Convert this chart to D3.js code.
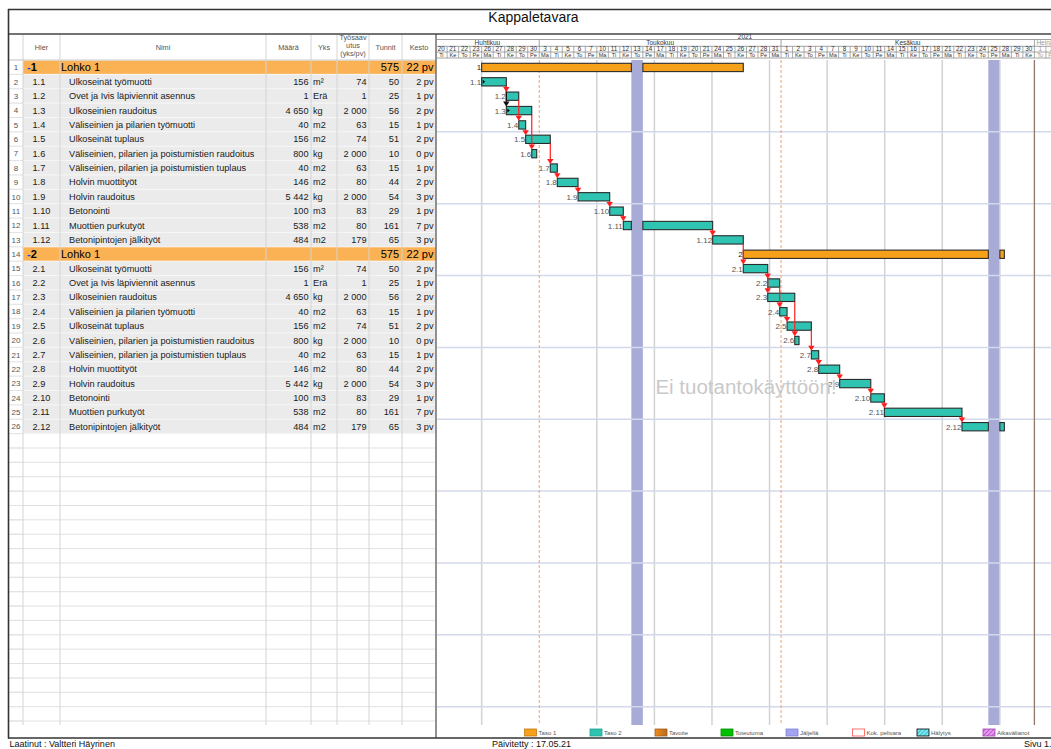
<!DOCTYPE html>
<html><head><meta charset="utf-8">
<script src="https://cdn.jsdelivr.net/npm/d3@7"></script>
<style>body{margin:0;background:#fff;} svg{display:block;font-family:"Liberation Sans",Arial,sans-serif;}</style>
</head><body><svg id="c" width="1051" height="749"></svg>
<script>
// ---------- DATA ----------
const title = "Kappaletavara";
const yearLabel = "2021";
const dayNums = [20,21,22,23,26,27,28,29,30, 3,4,5,6,7,10,11,12,13,14,17,18,19,20,21,24,25,26,27,28,31, 1,2,3,4,7,8,9,10,11,14,15,16,17,18,21,22,23,24,25,28,29,30, 1,2];
const weekdays = ["Ti","Ke","To","Pe","Ma","Ti","Ke","To","Pe",
  "Ma","Ti","Ke","To","Pe","Ma","Ti","Ke","To","Pe","Ma","Ti","Ke","To","Pe","Ma","Ti","Ke","To","Pe","Ma",
  "Ti","Ke","To","Pe","Ma","Ti","Ke","To","Pe","Ma","Ti","Ke","To","Pe","Ma","Ti","Ke","To","Pe","Ma","Ti","Ke",
  "To","Pe"];
const monthNames = ["Huhtikuu","Toukokuu","Kesäkuu","Heinäkuu"];
const monthStart = [0, 9, 30, 52];
const monthEnd = [9, 30, 52, 54];
const holidays = [17, 48];            // workday index of 13.5. and 25.6.
const monthLines = [9, 30];           // dashed month-start lines
const endLine = [52];                 // solid line at 1.7.

const hierCodes = ["1","1.1","1.2","1.3","1.4","1.5","1.6","1.7","1.8","1.9","1.10","1.11","1.12",
                   "2","2.1","2.2","2.3","2.4","2.5","2.6","2.7","2.8","2.9","2.10","2.11","2.12"];
const taskNamesBlock = ["Lohko 1","Ulkoseinät työmuotti","Ovet ja Ivis läpiviennit asennus","Ulkoseinien raudoitus",
  "Väliseinien ja pilarien työmuotti","Ulkoseinät tuplaus","Väliseinien, pilarien ja poistumistien raudoitus",
  "Väliseinien, pilarien ja poistumistien tuplaus","Holvin muottityöt","Holvin raudoitus","Betonointi",
  "Muottien purkutyöt","Betonipintojen jälkityöt"];
const names = taskNamesBlock.concat(taskNamesBlock);
const amounts = ["","156","1","4 650","40","156","800","40","146","5 442","100","538","484",
                 "","156","1","4 650","40","156","800","40","146","5 442","100","538","484"];
const units = ["","m²","Erä","kg","m2","m2","kg","m2","m2","kg","m3","m2","m2",
               "","m²","Erä","kg","m2","m2","kg","m2","m2","kg","m3","m2","m2"];
const rates = ["","74","1","2 000","63","74","2 000","63","80","2 000","83","80","179",
               "","74","1","2 000","63","74","2 000","63","80","2 000","83","80","179"];
const hours = [575,50,25,56,15,51,10,15,44,54,29,161,65, 575,50,25,56,15,51,10,15,44,54,29,161,65];
const durations = ["22 pv","2 pv","1 pv","2 pv","1 pv","2 pv","0 pv","1 pv","2 pv","3 pv","1 pv","7 pv","3 pv",
                   "22 pv","2 pv","1 pv","2 pv","1 pv","2 pv","0 pv","1 pv","2 pv","3 pv","1 pv","7 pv","3 pv"];
// start / end in workday index (0 = Ti 20.4.2021)
const starts = [4, 4, 6.14, 6.14, 7.22, 7.82, 8.35, 9.96, 10.57, 12.37, 15.12, 16.3, 24.06,
                26.72, 26.72, 28.84, 28.84, 29.88, 30.52, 31.19, 32.63, 33.27, 35.09, 37.79, 38.97, 45.71];
const ends = [26.72, 6.14, 7.22, 8.35, 7.82, 9.96, 8.78, 10.57, 12.37, 15.12, 16.3, 24.06, 26.72,
              49.39, 28.84, 29.88, 31.19, 30.52, 32.63, 31.56, 33.27, 35.09, 37.79, 38.97, 45.71, 49.39];
const linkFrom = [1,2,3,4,5,7,8,9,10,11,12, 14,14,15,16,17,18,20,21,22,23,24];
const linkTo   = [2,4,6,5,7,8,9,10,11,12,14, 15,16,17,19,18,20,21,22,23,24,25];
const blackLinkFrom = [1];
const blackLinkTo = [3];
const startMarks = [1, 3];
const legendLabels = ["Taso 1","Taso 2","Tavoite","Toteutuma","Jäljellä","Kok. pelivara","Hälytys","Aikavälianot"];
const headers = ["Hier","Nimi","Määrä","Yks","Työsaav|utus|(yks/pv)","Tunnit","Kesto"];

// ---------- LAYOUT ----------
const svg = d3.select("#c");
const colX = [8, 23, 60, 266, 311, 337, 369, 402, 436];
const chartL = 437, chartR = 1051;
const rowH = 14.37, rowTop0 = 60, totalRows = 46, gridBottom = 725;
const y = d3.scaleLinear().domain([0, 1]).range([rowTop0, rowTop0 + rowH]);
const x = d3.scaleLinear().domain([0, 52]).range([435.6, 1034.4]);
const C = {orangeRow:"#fbb254", grayRow:"#ebebeb", bar1:"#f7a11a", bar2:"#2fc3b1", holiday:"#a7abd6",
           grid:"#d2d2d2", text:"#1a1a1a"};

const defs = svg.append("defs");
defs.append("clipPath").attr("id","chartClip").append("rect").attr("x",chartL).attr("y",30).attr("width",chartR-chartL).attr("height",700);
const hatch = defs.append("pattern").attr("id","hatchC").attr("patternUnits","userSpaceOnUse").attr("width",3).attr("height",3).attr("patternTransform","rotate(45)");
hatch.append("rect").attr("width",3).attr("height",3).attr("fill","#7fe8f0");
hatch.append("line").attr("x1",0).attr("y1",0).attr("x2",0).attr("y2",3).attr("stroke","#1aa8b8").attr("stroke-width",1.4);
const hatchM = defs.append("pattern").attr("id","hatchM").attr("patternUnits","userSpaceOnUse").attr("width",3).attr("height",3).attr("patternTransform","rotate(45)");
hatchM.append("rect").attr("width",3).attr("height",3).attr("fill","#e7a0f0");
hatchM.append("line").attr("x1",0).attr("y1",0).attr("x2",0).attr("y2",3).attr("stroke","#b030c8").attr("stroke-width",1.4);
const grad = defs.append("linearGradient").attr("id","tavoite");
grad.append("stop").attr("offset","0").attr("stop-color","#f08c1e");
grad.append("stop").attr("offset","1").attr("stop-color","#b86a20");

// ---------- TABLE ----------
const tbl = svg.append("g");
// row backgrounds
for (let i = 0; i < totalRows; i++) {
  const top = y(i);
  if (i < hierCodes.length) {
    const grp = !hierCodes[i].includes(".");
    tbl.append("rect").attr("x",colX[1]).attr("y",top).attr("width",colX[8]-colX[1]).attr("height",rowH)
      .attr("fill", grp ? C.orangeRow : C.grayRow);
  }
}
// horizontal lines in table
for (let i = 0; i <= totalRows; i++) {
  tbl.append("line").attr("x1",colX[0]).attr("x2",colX[8]).attr("y1",y(i)).attr("y2",y(i))
    .attr("stroke", i <= hierCodes.length ? "#f7f7f7" : "#e2e2e2").attr("stroke-width",1);
}
// row number column horizontal lines
for (let i = 0; i <= totalRows; i++) {
  tbl.append("line").attr("x1",colX[0]).attr("x2",colX[1]).attr("y1",y(i)).attr("y2",y(i)).attr("stroke","#e2e2e2");
}
// vertical lines
colX.slice(1,8).forEach(cx => {
  tbl.append("line").attr("x1",cx).attr("x2",cx).attr("y1",34).attr("y2",gridBottom).attr("stroke","#d4d4d4").attr("stroke-width",1);
});
// header texts
const hdrCenters = [41.5, 163, 288.5, 324, 353, 385.5, 419];
headers.forEach((h, k) => {
  const lines = h.split("|");
  const t = tbl.append("text").attr("x",hdrCenters[k]).attr("text-anchor","middle")
    .attr("font-size",7.3).attr("fill","#555");
  if (lines.length === 1) t.attr("y",50).text(h);
  else lines.forEach((ln, j) => t.append("tspan").attr("x",hdrCenters[k]).attr("y",40 + j*7.8).text(ln));
});
tbl.append("line").attr("x1",colX[0]).attr("x2",colX[8]).attr("y1",60).attr("y2",60).attr("stroke","#cfcfcf");

// row content
hierCodes.forEach((code, i) => {
  const grp = !code.includes(".");
  const by = y(i) + rowH/2 + (grp ? 4 : 3.3);
  tbl.append("text").attr("x",16).attr("y",y(i)+rowH/2+3).attr("text-anchor","middle")
    .attr("font-size",8).attr("fill","#555").text(i+1);
  const fs = grp ? 11 : 9.2;
  if (grp) {
    const t = tbl.append("text").attr("x",27).attr("y",by).attr("font-size",fs).attr("font-weight","bold");
    t.append("tspan").attr("fill","#1a3cff").text("-");
    t.append("tspan").attr("fill","#000").text(code);
  } else {
    tbl.append("text").attr("x",32.5).attr("y",by).attr("font-size",fs).attr("fill",C.text).text(code);
  }
  tbl.append("text").attr("x", grp ? 61 : 69).attr("y",by).attr("font-size",fs).attr("fill",grp?"#000":C.text).text(names[i]);
  tbl.append("text").attr("x",308.5).attr("y",by).attr("text-anchor","end").attr("font-size",fs).attr("fill",C.text).text(amounts[i]);
  tbl.append("text").attr("x",313).attr("y",by).attr("font-size",fs).attr("fill",C.text).text(units[i]);
  tbl.append("text").attr("x",366.5).attr("y",by).attr("text-anchor","end").attr("font-size",fs).attr("fill",C.text).text(rates[i]);
  tbl.append("text").attr("x",399).attr("y",by).attr("text-anchor","end").attr("font-size",fs).attr("fill",grp?"#000":C.text).text(hours[i]);
  tbl.append("text").attr("x",433.5).attr("y",by).attr("text-anchor","end").attr("font-size",fs).attr("fill",grp?"#000":C.text).text(durations[i]);
});

// ---------- CHART ----------
const ch = svg.append("g").attr("clip-path","url(#chartClip)");
// holiday bands
ch.selectAll(".hol").data(holidays).enter().append("rect")
  .attr("x", d => x(d)).attr("width", d => x(d+1) - x(d))
  .attr("y", 60).attr("height", gridBottom - 60).attr("fill", C.holiday);
// week gridlines (Mondays)
const mondays = weekdays.map((w,i)=> w==="Ma" ? i : -1).filter(i => i >= 0 && !monthLines.includes(i));
ch.selectAll(".wk").data(mondays).enter().append("line")
  .attr("x1", d => x(d)).attr("x2", d => x(d)).attr("y1", 60).attr("y2", gridBottom)
  .attr("stroke", C.grid).attr("stroke-width", 1.5);
// horizontal light-blue lines every 5 rows
const blueRows = d3.range(5, totalRows + 1, 5);
ch.selectAll(".hb").data(blueRows).enter().append("line")
  .attr("x1", chartL).attr("x2", chartR).attr("y1", d => y(d)).attr("y2", d => y(d))
  .attr("stroke", "#d3d9ec").attr("stroke-width", 1.5);
// month lines
ch.selectAll(".ml").data(monthLines).enter().append("line")
  .attr("x1", d => x(d)).attr("x2", d => x(d)).attr("y1", 60).attr("y2", gridBottom)
  .attr("stroke", "#f0a070").attr("stroke-width", 1).attr("stroke-dasharray", "3,2");
ch.selectAll(".el").data(endLine).enter().append("line")
  .attr("x1", d => x(d)).attr("x2", d => x(d)).attr("y1", 60).attr("y2", gridBottom)
  .attr("stroke", "#8f776a").attr("stroke-width", 1.3);

// watermark
svg.append("text").attr("x", 746).attr("y", 394).attr("text-anchor","middle")
  .attr("font-size", 20.5).attr("fill", "#c9c9c9").text("Ei tuotantokäyttöön!");

// bars
function segments(s, e) {
  let segs = [[s, e]];
  holidays.forEach(h => {
    segs = segs.flatMap(([a, b]) => (b <= h || a >= h + 1) ? [[a, b]] :
      [[a, Math.min(b, h)], [Math.max(a, h + 1), b]].filter(([p, q]) => q - p > 0.01));
  });
  return segs;
}
const barTop = i => y(i) + 3.3, barH = 8.3;
hierCodes.forEach((code, i) => {
  const grp = !code.includes(".");
  segments(starts[i], ends[i]).forEach(([a, b]) => {
    ch.append("rect").attr("x", x(a)).attr("y", barTop(i)).attr("width", x(b) - x(a)).attr("height", barH)
      .attr("fill", grp ? C.bar1 : C.bar2).attr("stroke", "#2b2b2b").attr("stroke-width", 1.1);
  });
  ch.append("text").attr("x", x(starts[i]) - 0.5).attr("y", barTop(i) + barH/2 + 3)
    .attr("text-anchor", "end").attr("font-size", 8).attr("fill", grp ? "#222" : "#555").text(code);
});
// start markers
startMarks.forEach(i => {
  const sx = x(starts[i]), cy = barTop(i) + barH/2;
  ch.append("path").attr("d", `M${sx+1},${cy-2}L${sx+3.5},${cy}L${sx+1},${cy+2}Z`).attr("fill", "#000");
});
// links
function drawLink(f, t, color) {
  const lx = x(ends[f]);
  const y1 = barTop(f) + barH, y2 = barTop(t);
  ch.append("line").attr("x1", lx).attr("x2", lx).attr("y1", y1).attr("y2", y2 - 4)
    .attr("stroke", color).attr("stroke-width", 1.2);
  ch.append("path").attr("d", `M${lx-3.2},${y2-5}L${lx+3.2},${y2-5}L${lx},${y2}Z`).attr("fill", color);
}
blackLinkFrom.forEach((f, k) => drawLink(f, blackLinkTo[k], "#111"));
linkFrom.forEach((f, k) => drawLink(f, linkTo[k], "#ff1e1e"));

// ---------- TIMELINE HEADER ----------
const hd = svg.append("g").attr("clip-path","url(#chartClip)");
const hy0 = 34, hy1 = 39.5, hy2 = 46.3, hy3 = 52, hy4 = 58;
hd.append("rect").attr("x", chartL).attr("y", hy0).attr("width", chartR - chartL).attr("height", hy4 - hy0).attr("fill", "#fff");
[hy1, hy2, hy3, hy4].forEach(yy => hd.append("line").attr("x1", chartL).attr("x2", chartR).attr("y1", yy).attr("y2", yy).attr("stroke", "#8a8a8a").attr("stroke-width", 0.8));
hd.append("text").attr("x", 745).attr("y", hy1 - 0.6).attr("text-anchor", "middle").attr("font-size", 6.5).attr("fill", "#333").text(yearLabel);
monthNames.forEach((m, k) => {
  const x0 = x(monthStart[k]), x1 = x(monthEnd[k]);
  const last = k === monthNames.length - 1;
  hd.append("line").attr("x1", x0).attr("x2", x0).attr("y1", hy1).attr("y2", hy2).attr("stroke", "#8a8a8a").attr("stroke-width", 0.8);
  hd.append("text").attr("x", last ? x0 + 2 : (x0 + x1) / 2).attr("y", hy2 - 1)
    .attr("text-anchor", last ? "start" : "middle").attr("font-size", 6.5).attr("fill", last ? "#999" : "#333").text(m);
});
dayNums.forEach((d, i) => {
  const x0 = x(i), x1 = x(i + 1);
  const gray = i >= 52;
  hd.append("line").attr("x1", x0).attr("x2", x0).attr("y1", hy2).attr("y2", hy4).attr("stroke", "#8a8a8a").attr("stroke-width", 0.7);
  hd.append("text").attr("x", (x0 + x1) / 2).attr("y", hy3 - 0.8).attr("text-anchor", "middle").attr("font-size", 6.3).attr("fill", gray ? "#999" : "#333").text(d);
  hd.append("text").attr("x", (x0 + x1) / 2).attr("y", hy4 - 0.8).attr("text-anchor", "middle").attr("font-size", 5.6).attr("fill", gray ? "#999" : "#333").text(weekdays[i]);
});

// ---------- FRAME ----------
svg.append("line").attr("x1", 436).attr("x2", 436).attr("y1", 34).attr("y2", 738).attr("stroke", "#777").attr("stroke-width", 1.6);
svg.append("line").attr("x1", 8).attr("x2", chartR).attr("y1", 34).attr("y2", 34).attr("stroke", "#444").attr("stroke-width", 1.4);
svg.append("line").attr("x1", 8).attr("x2", chartR).attr("y1", 9.5).attr("y2", 9.5).attr("stroke", "#333").attr("stroke-width", 1.6);
svg.append("line").attr("x1", 8.5).attr("x2", 8.5).attr("y1", 9).attr("y2", 738.5).attr("stroke", "#333").attr("stroke-width", 1.6);
svg.append("line").attr("x1", 8).attr("x2", chartR).attr("y1", 738).attr("y2", 738).attr("stroke", "#333").attr("stroke-width", 1.6);
svg.append("text").attr("x", 533.5).attr("y", 22).attr("text-anchor", "middle").attr("font-size", 14).attr("fill", "#111").text(title);

// ---------- LEGEND ----------
const legX = [524.6, 590, 655, 721, 786, 852.5, 917, 983];
const legFill = [C.bar1, C.bar2, "url(#tavoite)", "#00c000", "#a4a4f2", "#fff", "url(#hatchC)", "url(#hatchM)"];
const legStroke = ["#c07a10", "#20a090", "#a06020", "#009000", "#8080d0", "#ff5050", "#000", "#a040b0"];
legendLabels.forEach((l, k) => {
  svg.append("rect").attr("x", legX[k]).attr("y", 729).attr("width", 12).attr("height", 7)
    .attr("fill", legFill[k]).attr("stroke", legStroke[k]).attr("stroke-width", 0.8);
  svg.append("text").attr("x", legX[k] + 14).attr("y", 735).attr("font-size", 6).attr("fill", "#555").text(l);
});

// ---------- FOOTER ----------
svg.append("text").attr("x", 9.5).attr("y", 747).attr("font-size", 9).attr("fill", "#111").text("Laatinut : Valtteri Häyrinen");
svg.append("text").attr("x", 492).attr("y", 747).attr("font-size", 9).attr("fill", "#111").text("Päivitetty : 17.05.21");
svg.append("text").attr("x", 1024).attr("y", 747).attr("font-size", 9).attr("fill", "#111").text("Sivu 1.");
</script>
</body></html>
